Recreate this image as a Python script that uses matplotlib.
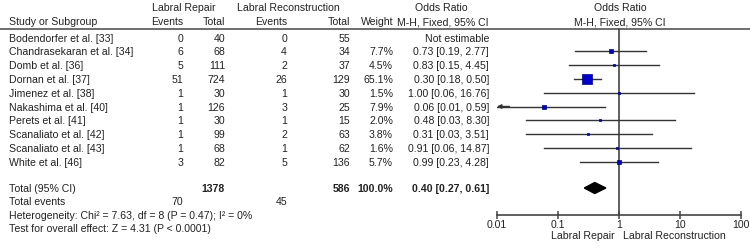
import numpy as np
import matplotlib
matplotlib.use('Agg')
import matplotlib.pyplot as plt

# study level data
studies = ['Bodendorfer et al. [33]', 'Chandrasekaran et al. [34]', 'Domb et al. [36]',
           'Dornan et al. [37]', 'Jimenez et al. [38]', 'Nakashima et al. [40]',
           'Perets et al. [41]', 'Scanaliato et al. [42]', 'Scanaliato et al. [43]',
           'White et al. [46]']
rep_events = [0, 6, 5, 51, 1, 1, 1, 1, 1, 3]
rep_total = [40, 68, 111, 724, 30, 126, 30, 99, 68, 82]
rec_events = [0, 4, 2, 26, 1, 3, 1, 2, 1, 5]
rec_total = [55, 34, 37, 129, 30, 25, 15, 63, 62, 136]
weight = [None, 7.7, 4.5, 65.1, 1.5, 7.9, 2.0, 3.8, 1.6, 5.7]
odds = [None, 0.73, 0.83, 0.30, 1.00, 0.06, 0.48, 0.31, 0.91, 0.99]
ci_lo = [None, 0.19, 0.15, 0.18, 0.06, 0.01, 0.03, 0.03, 0.06, 0.23]
ci_hi = [None, 2.77, 4.45, 0.50, 16.76, 0.59, 8.30, 3.51, 14.87, 4.28]

# pooled
tot_rep, tot_rec = 1378, 586
tot_weight = 100.0
tot_ev_rep, tot_ev_rec = 70, 45
pooled = (0.40, 0.27, 0.61)
het_text = 'Heterogeneity: Chi\u00b2 = 7.63, df = 8 (P = 0.47); I\u00b2 = 0%'
test_text = 'Test for overall effect: Z = 4.31 (P < 0.0001)'
ticks = [0.01, 0.1, 1, 10, 100]

plt.rcParams['font.family'] = ['Liberation Sans', 'DejaVu Sans']
fs = 7.6
tc = '#222222'

fig = plt.figure(figsize=(7.5, 2.49), dpi=100)
ax = fig.add_axes([0, 0, 1, 1])
ax.set_xlim(0, 750)
ax.set_ylim(249, 0)
ax.axis('off')

def txt(x, y, s, ha='left', bold=False):
    ax.text(x, y, s, ha=ha, va='center', fontsize=fs, color=tc,
            fontweight='bold' if bold else 'normal')

# header
txt(184, 8, 'Labral Repair', ha='center')
txt(288, 8, 'Labral Reconstruction', ha='center')
txt(441, 8, 'Odds Ratio', ha='center')
txt(620, 8, 'Odds Ratio', ha='center')
txt(9, 22, 'Study or Subgroup')
txt(183, 22, 'Events', ha='right')
txt(225, 22, 'Total', ha='right')
txt(287, 22, 'Events', ha='right')
txt(350, 22, 'Total', ha='right')
txt(393, 22, 'Weight', ha='right')
txt(489, 22, 'M-H, Fixed, 95% CI', ha='right')
txt(620, 22, 'M-H, Fixed, 95% CI', ha='center')
ax.plot([0, 750], [28.5, 28.5], color='#555555', lw=1.2)

y0, dy = 38.5, 13.8
rows = [y0 + i * dy for i in range(len(studies))]
for i, y in enumerate(rows):
    txt(9, y, studies[i])
    txt(183, y, str(rep_events[i]), ha='right')
    txt(225, y, str(rep_total[i]), ha='right')
    txt(287, y, str(rec_events[i]), ha='right')
    txt(350, y, str(rec_total[i]), ha='right')
    if weight[i] is None:
        txt(489, y, 'Not estimable', ha='right')
    else:
        txt(393, y, f'{weight[i]:.1f}%', ha='right')
        txt(489, y, f'{odds[i]:.2f} [{ci_lo[i]:.2f}, {ci_hi[i]:.2f}]', ha='right')

y_tot = 188.5
txt(9, y_tot, 'Total (95% CI)')
txt(225, y_tot, str(tot_rep), ha='right', bold=True)
txt(350, y_tot, str(tot_rec), ha='right', bold=True)
txt(393, y_tot, f'{tot_weight:.1f}%', ha='right', bold=True)
txt(489, y_tot, f'{pooled[0]:.2f} [{pooled[1]:.2f}, {pooled[2]:.2f}]', ha='right', bold=True)
txt(9, 202, 'Total events')
txt(183, 202, str(tot_ev_rep), ha='right')
txt(287, 202, str(tot_ev_rec), ha='right')
txt(9, 215.5, het_text)
txt(9, 229, test_text)

txt(615, 235.5, 'Labral Repair', ha='right')
txt(623, 235.5, 'Labral Reconstruction')

# forest panel
fx = fig.add_axes([497 / 750, 0, 244 / 750, 1])
fx.set_xscale('log')
fx.set_xlim(ticks[0], ticks[-1])
fx.set_ylim(249, 0)
fx.patch.set_visible(False)
for s in ['top', 'left', 'right']:
    fx.spines[s].set_visible(False)
fx.spines['bottom'].set_position(('data', 214.5))
fx.spines['bottom'].set_color('#444444')
fx.spines['bottom'].set_linewidth(1.2)
fx.set_yticks([])
fx.set_xticks(ticks)
fx.set_xticklabels(['0.01', '0.1', '1', '10', '100'])
fx.minorticks_off()
fx.tick_params(axis='x', direction='inout', length=6, width=1.1, color='#444444',
               labelsize=fs, labelcolor=tc, pad=1)

fx.plot([1, 1], [28.5, 214.5], color='#444444', lw=1.2)

wmax = max(w for w in weight if w)
for i, y in enumerate(rows):
    if odds[i] is None:
        continue
    y2 = y - 1
    lo = max(ci_lo[i], ticks[0])
    hi = min(ci_hi[i], ticks[-1])
    fx.plot([lo, hi], [y2, y2], color='#333333', lw=1.0)
    if ci_lo[i] <= ticks[0]:
        fx.annotate('', xy=(ticks[0], y2), xytext=(ticks[0] * 1.6, y2),
                    arrowprops=dict(arrowstyle='-|>', color='#333333', lw=1.0,
                                    mutation_scale=6, shrinkA=0, shrinkB=0))
    ms = max(7.6 * np.sqrt(weight[i] / wmax), 1.5)
    fx.plot(odds[i], y2, marker='s', ms=ms, color='#0000c8', mec='#000080', mew=0.5)

est, lo, hi = pooled
fx.fill([lo, est, hi, est], [y_tot - 0.5, y_tot - 6, y_tot - 0.5, y_tot + 5], color='black')

fig.savefig('out.png', dpi=100)
